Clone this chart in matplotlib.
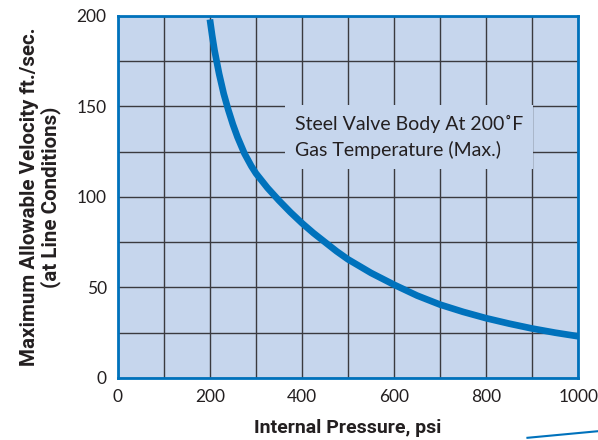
import numpy as np
import matplotlib.pyplot as plt
from matplotlib.lines import Line2D

# curva: pressione (psi) -> velocita' (ft/s)
pressione = [200, 205, 210, 220, 230, 240, 250, 260, 275, 290, 300, 325,
             350, 375, 400, 425, 450, 475, 500, 550, 600, 650, 700, 750,
             800, 850, 900, 950, 1000]
velocita = [198, 189, 181, 168, 157, 148, 140, 133, 124, 117, 113, 105,
            98, 91.5, 85.5, 80, 75, 70, 65.5, 58, 51.5, 45.5, 40.5, 36.5,
            33, 30, 27.3, 25, 23]

xticks = [0, 200, 400, 600, 800, 1000]
yticks = [0, 50, 100, 150, 200]

blu = '#0072bc'
sfondo = '#c6d6ed'
testo = '#231f20'

plt.rcParams['font.family'] = ['Lato', 'DejaVu Sans']

fig = plt.figure(figsize=(5.98, 4.40), dpi=100)
ax = fig.add_axes([0.197, 0.141, 0.770, 0.823])
ax.set_facecolor(sfondo)

ax.set_xlim(0, 1000)
ax.set_ylim(0, 200)
ax.set_xticks(xticks)
ax.set_yticks(yticks)
ax.set_xticks(np.arange(0, 1001, 100), minor=True)
ax.set_yticks(np.arange(0, 201, 25), minor=True)
ax.grid(which='both', color='#3a3a3f', linewidth=1.0)
ax.tick_params(which='both', length=0, labelsize=12.5, colors=testo, pad=8)

for s in ax.spines.values():
    s.set_color(blu)
    s.set_linewidth(2)

ax.plot(pressione, velocita, color=blu, linewidth=4.8, solid_capstyle='butt',
        solid_joinstyle='round')

ax.text(385, 133, "Steel Valve Body At 200˚F\nGas Temperature (Max.)",
        fontsize=14, color=testo, va='center', ha='left', linespacing=1.55,
        bbox=dict(facecolor=sfondo, edgecolor='none', pad=7))

ax.set_xlabel("Internal Pressure, psi", fontsize=14, fontweight='bold',
              color=testo, labelpad=10, family=['Roboto', 'DejaVu Sans'])
ax.set_ylabel("Maximum Allowable Velocity ft./sec.\n(at Line Conditions)",
              fontsize=14.8, fontweight='bold', color=testo, labelpad=11,
              linespacing=1.1, family=['Roboto', 'DejaVu Sans'])

# tratto blu decorativo in basso a destra
fig.add_artist(Line2D([0.882, 1.0], [0.005, 0.02], color=blu, linewidth=1.5,
                      transform=fig.transFigure))

fig.savefig('out.png', dpi=100)
